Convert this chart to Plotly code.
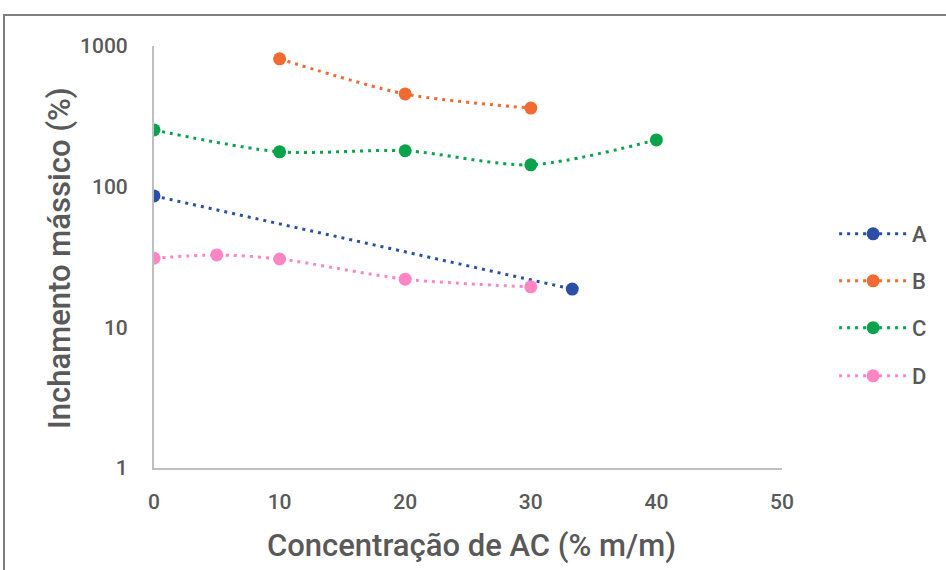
import plotly.graph_objects as go

FONT = "Roboto, sans-serif"

series_names = ["A", "B", "C", "D"]
colors = ["#2A4FA5", "#F06A32", "#0AA24A", "#FF86C2"]

a_x = [0, 33.3]
a_y = [86, 18.7]
b_x = [10, 20, 30]
b_y = [810, 456, 362]
c_x = [0, 10, 20, 30, 40]
c_y = [253, 177, 180, 143, 215]
d_x = [0, 5, 10, 20, 30]
d_y = [31, 32.7, 30.6, 22, 19.4]

xs = [a_x, b_x, c_x, d_x]
ys = [a_y, b_y, c_y, d_y]

x_ticks = [0, 10, 20, 30, 40, 50]
y_ticks = [1, 10, 100, 1000]
y_ticklabels = ["1", "10", "100", "1000"]

legend_ids = ["legend", "legend2", "legend3", "legend4"]
legend_ys = [0.5545, 0.443, 0.332, 0.218]

TXT = "#595959"

fig = go.Figure()
for name, col, x, y, lid in zip(series_names, colors, xs, ys, legend_ids):
    fig.add_trace(go.Scatter(
        x=x, y=y, name=name, mode="lines+markers", legend=lid,
        line=dict(color=col, width=3, dash="3px,5px", shape="spline", smoothing=0.8),
        marker=dict(color=col, size=13, symbol="circle"),
    ))

legend_common = dict(x=1.083, xanchor="left", yanchor="middle",
                     font=dict(size=22, color=TXT, family=FONT, weight=500),
                     itemwidth=68, bgcolor="rgba(0,0,0,0)")
layout_legends = {}
for lid, ly in zip(legend_ids, legend_ys):
    layout_legends[lid] = dict(y=ly, **legend_common)

tickfont = dict(size=21, color=TXT, family=FONT, weight=500)

fig.update_layout(
    width=946, height=570,
    margin=dict(l=154, r=164, t=46, b=102),
    paper_bgcolor="white", plot_bgcolor="white",
    font=dict(family=FONT, color=TXT),
    showlegend=True,
    xaxis=dict(range=[0, 50], tickvals=x_ticks, showgrid=False, zeroline=False,
               showline=True, linecolor="#BFBFBF", linewidth=2, ticks="",
               tickfont=tickfont, ticklabelstandoff=14),
    yaxis=dict(type="log", range=[0, 3], tickvals=y_ticks, ticktext=y_ticklabels,
               showgrid=False, zeroline=False, showline=True, linecolor="#BFBFBF",
               linewidth=2, ticks="", tickfont=tickfont, ticklabelstandoff=20),
    annotations=[
        dict(text="Concentração de AC (% m/m)", xref="paper", yref="paper",
             x=(471 - 154) / 628, y=(468 - 545) / 422, xanchor="center", yanchor="middle",
             showarrow=False, font=dict(size=31, color=TXT, family=FONT, weight=500)),
        dict(text="Inchamento mássico (%)", xref="paper", yref="paper",
             x=(59 - 154) / 628, y=(468 - 258) / 422, xanchor="center", yanchor="middle",
             showarrow=False, textangle=-90,
             font=dict(size=31, color=TXT, family=FONT, weight=500)),
    ],
    shapes=[
        dict(type="rect", xref="paper", yref="paper",
             x0=(4 - 154) / 628, x1=(960 - 154) / 628,
             y0=(468 - 600) / 422, y1=(468 - 15) / 422,
             line=dict(color="#7F7F7F", width=2), fillcolor="rgba(0,0,0,0)", layer="below"),
    ],
    **layout_legends,
)

fig.write_html("out.html")
